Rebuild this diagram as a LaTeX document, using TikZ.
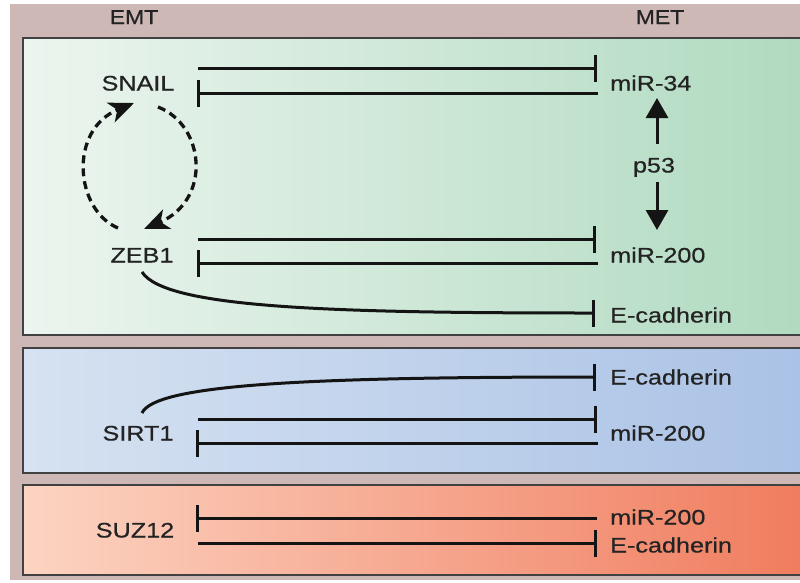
\documentclass[tikz,border=0pt]{standalone}
\usepackage{fontspec}
\setmainfont{Liberation Sans}
\newfontfamily\labfont[FakeStretch=1.2,FakeBold=0.6]{Liberation Sans}
\newfontfamily\headfont[FakeStretch=1.15,FakeBold=0.6]{Liberation Sans}
\usetikzlibrary{arrows.meta}
\definecolor{taupe}{RGB}{205,184,182}
\definecolor{gL}{RGB}{236,245,239}
\definecolor{gR}{RGB}{176,218,192}
\definecolor{bL}{RGB}{214,226,241}
\definecolor{bR}{RGB}{170,194,230}
\definecolor{oL}{RGB}{252,212,194}
\definecolor{oR}{RGB}{240,124,94}
\definecolor{txt}{RGB}{35,35,35}
\definecolor{ink}{RGB}{20,20,20}
\definecolor{edge}{RGB}{65,65,65}
\tikzset{
  lab/.style={font=\labfont\fontsize{21}{25}\selectfont, text=txt, inner sep=0pt, text height=15pt, text depth=0pt},
  head/.style={font=\headfont\fontsize{20}{24}\selectfont, text=txt, inner sep=0pt, text height=14pt, text depth=0pt},
  panelborder/.style={draw=edge, line width=1.8pt},
  inh/.style={draw=ink, line width=3pt, -{Bar[width=27pt]}},
  act/.style={draw=ink, line width=3pt, -{Triangle[width=22pt,length=20pt]}},
  loopar/.style={draw=ink, line width=3.3pt, dash pattern=on 8pt off 5pt, -{Stealth[width=21pt,length=25pt,inset=7pt]}}
}
\begin{document}
\begin{tikzpicture}[x=1pt,y=-1pt]
\useasboundingbox (0,0) rectangle (800,582);
\clip (0,0) rectangle (800,582);
\fill[taupe] (10,4) rectangle (800,580);
% panels
\shade[left color=gL, right color=gR] (23,38) rectangle (806,335);
\draw[panelborder] (806,38) -- (23,38) -- (23,335) -- (806,335);
\shade[left color=bL, right color=bR] (23,348) rectangle (806,473);
\draw[panelborder] (806,348) -- (23,348) -- (23,473) -- (806,473);
\shade[left color=oL, right color=oR] (23,485) rectangle (806,575);
\draw[panelborder] (806,485) -- (23,485) -- (23,575) -- (806,575);
% headers
\node[head] (emt) at (134,17) {EMT};
\node[head] (met) at (660,17) {MET};
% green panel
\node[lab] (snail) at (138,83) {SNAIL};
\node[lab] (zeb) at (142,255) {ZEB1};
\node[lab, anchor=west] (mir34) at (610,83) {miR-34};
\node[lab] (p53) at (654,165) {p53};
\node[lab, anchor=west] (mir200a) at (610,255) {miR-200};
\node[lab, anchor=west] (ecada) at (610,315) {E-cadherin};
\coordinate (a1) at (198,68); \coordinate (b1) at (597,68);
\coordinate (a2) at (598,93); \coordinate (b2) at (197,93);
\coordinate (a3) at (198,239); \coordinate (b3) at (596,239);
\coordinate (a4) at (598,263); \coordinate (b4) at (197,263);
\coordinate (zs) at (142,272); \coordinate (ze) at (595,313);
\path[inh] (a1) -- (b1);
\path[inh] (a2) -- (b2);
\path[inh] (a3) -- (b3);
\path[inh] (a4) -- (b4);
\path[inh] (zs) .. controls (165,308) and (330,313) .. (ze);
\coordinate (pu) at (657,144); \coordinate (pd) at (657,182);
\coordinate (pt1) at (657,98); \coordinate (pt2) at (657,230);
\path[act] (pu) -- (pt1);
\path[act] (pd) -- (pt2);
\coordinate (l1) at (118,228); \coordinate (l2) at (134,103);
\coordinate (r1) at (158,107); \coordinate (r2) at (144,229);
\path[loopar] (l1) .. controls (75,210) and (68,130) .. (l2);
\path[loopar] (r1) .. controls (205,125) and (212,200) .. (r2);
% blue panel
\node[lab] (sirt) at (138,433) {SIRT1};
\node[lab, anchor=west] (ecadb) at (610,377) {E-cadherin};
\node[lab, anchor=west] (mir200b) at (610,433) {miR-200};
\coordinate (ss) at (142,413); \coordinate (se) at (596,377);
\path[inh] (ss) .. controls (155,385) and (300,377) .. (se);
\coordinate (a5) at (198,419); \coordinate (b5) at (597,419);
\coordinate (a6) at (598,443); \coordinate (b6) at (196,443);
\path[inh] (a5) -- (b5);
\path[inh] (a6) -- (b6);
% orange panel
\node[lab] (suz) at (135,530) {SUZ12};
\node[lab, anchor=west] (mir200c) at (610,517) {miR-200};
\node[lab, anchor=west] (ecadc) at (610,545) {E-cadherin};
\coordinate (a7) at (597,518); \coordinate (b7) at (196,518);
\coordinate (a8) at (198,543); \coordinate (b8) at (597,543);
\path[inh] (a7) -- (b7);
\path[inh] (a8) -- (b8);
\end{tikzpicture}
\end{document}
